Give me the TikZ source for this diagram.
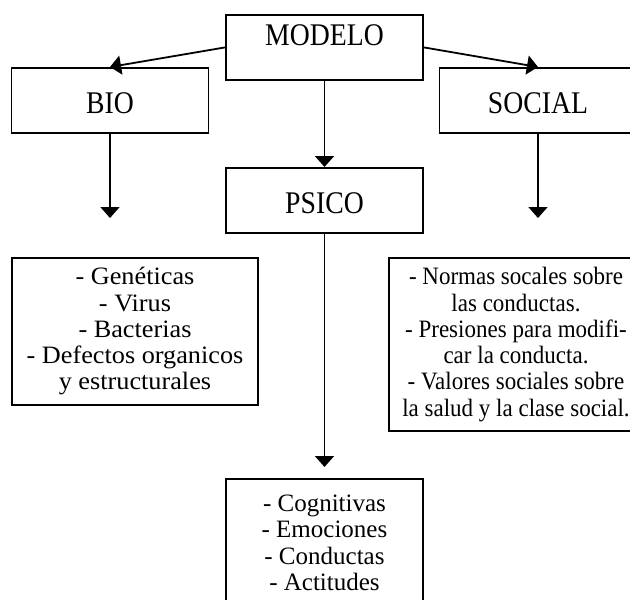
\documentclass[tikz,border=0pt]{standalone}
\usepackage{fontspec}
\usepackage{tikz}
\usetikzlibrary{arrows.meta}
\setmainfont{Liberation Serif}
\newfontfamily\headfont[FakeStretch=0.88]{Liberation Serif}
\newfontfamily\narrowfont[FakeStretch=0.92]{Liberation Serif}
\newfontfamily\widefont[FakeStretch=1.05]{Liberation Serif}

\begin{document}
\begin{tikzpicture}%
  [x=1pt,y=-1pt,line width=1.8pt]
  \tikzstyle{head box}=[rectangle,draw,inner sep=0,minimum width=197pt,
    text height=46pt,text depth=19pt,font=\headfont\fontsize{31.5}{34}\selectfont]
  \tikzstyle{list box}=[rectangle,draw,inner xsep=0,inner ysep=9.5pt,align=center,
    font=\fontsize{25}{26.3}\selectfont]
  \tikzstyle{arr}=[-{Triangle[width=19pt,length=11pt]}]
  \useasboundingbox (0,0) rectangle (630,600);
  \node(modelo)[head box,anchor=north,text height=31pt,text depth=34pt] at (324.5,14) {MODELO};
  \node(bio)[head box,anchor=north] at (110,67) {BIO};
  \node(social)[head box,anchor=north] at (538,67) {SOCIAL};
  \node(psico)[head box,anchor=north] at (324.5,167) {PSICO};
  \node(biolist)[list box,anchor=north,minimum width=246pt,
    font=\widefont\fontsize{25}{26.3}\selectfont] at (135,257)
    {- Genéticas\\- Virus\\- Bacterias\\- Defectos organicos\\y estructurales};
  \node(soclist)[list box,anchor=north,minimum width=254pt,
    font=\narrowfont\fontsize{25}{26.3}\selectfont] at (516,257)
    {- Normas socales sobre\\las conductas.\\- Presiones para modifi-\\car la conducta.\\
     - Valores sociales sobre\\la salud y la clase social.};
  \node(psilist)[list box,anchor=north,minimum width=197pt,inner ysep=16pt,text depth=100pt]
    at (324.5,478) {- Cognitivas\\- Emociones\\- Conductas\\- Actitudes};
  % arrows
  \draw[arr] (modelo.west) -- (bio.north);
  \draw[arr] (modelo.east) -- (social.north);
  \draw[arr] (modelo) -- (psico);
  \draw[arr,shorten >=39pt] (bio) -- (bio |- biolist.north);
  \draw[arr,shorten >=39pt] (social) -- (social |- soclist.north);
  \draw[arr,shorten >=11pt] (psico) -- (psilist);
\end{tikzpicture}
\end{document}
